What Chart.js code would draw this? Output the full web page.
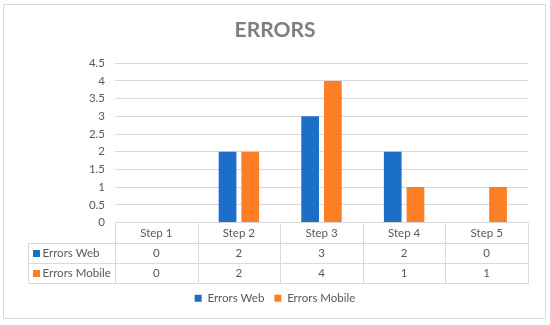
<!DOCTYPE html>
<html>
<head>
<meta charset="utf-8">
<script src="https://cdn.jsdelivr.net/npm/chart.js@4"></script>
<style>
html,body{margin:0;padding:0;background:#fff;}
#wrap{width:550px;height:325px;position:relative;}
</style>
</head>
<body>
<div id="wrap"><canvas id="c" width="550" height="325"></canvas></div>
<script>
const categories = ["Step 1", "Step 2", "Step 3", "Step 4", "Step 5"];
const errorsWeb = [0, 2, 3, 2, 0];
const errorsMobile = [0, 2, 4, 1, 1];
const seriesNames = ["Errors Web", "Errors Mobile"];
const seriesColors = ["#1C6FC7", "#FD7E24"];
const chartTitle = "ERRORS";

const FONT = "Lato, 'Liberation Sans', sans-serif";
const TEXT = "#595959";
const LINE = "#D9D9D9";

const framePlugin = {
  id: 'frame',
  beforeDraw(chart) {
    const ctx = chart.ctx;
    ctx.save();
    ctx.fillStyle = '#fff';
    ctx.fillRect(0, 0, chart.width, chart.height);
    ctx.strokeStyle = LINE;
    ctx.lineWidth = 1;
    ctx.strokeRect(3.5, 4.5, 542, 314);
    ctx.restore();
  }
};

const tablePlugin = {
  id: 'datatable',
  afterDraw(chart) {
    const ctx = chart.ctx;
    const xs = chart.scales.x;
    const area = chart.chartArea;
    const right = Math.round(area.right) + 0.5;
    const top = Math.round(area.bottom) + 0.5;
    const rowH = 20;
    const labelLeft = 28.5;
    const n = categories.length;
    const colW = (area.right - area.left) / n;
    ctx.save();
    ctx.strokeStyle = LINE;
    ctx.lineWidth = 1;
    ctx.beginPath();
    for (let i = 0; i <= n; i++) {
      const x = Math.round(area.left + i * colW) + 0.5;
      ctx.moveTo(x, top);
      ctx.lineTo(x, top + rowH * 3);
    }
    ctx.moveTo(labelLeft, top + rowH);
    ctx.lineTo(labelLeft, top + rowH * 3);
    for (let r = 1; r <= 3; r++) {
      ctx.moveTo(labelLeft, top + rowH * r);
      ctx.lineTo(right, top + rowH * r);
    }
    ctx.stroke();

    ctx.font = "11.5px " + FONT;
    ctx.textBaseline = 'middle';
    const rows = [errorsWeb, errorsMobile];
    rows.forEach((vals, r) => {
      const cy = top + rowH * (r + 1) + rowH / 2;
      ctx.fillStyle = seriesColors[r];
      ctx.fillRect(labelLeft + 4.5, cy - 3.5, 7, 7);
      ctx.fillStyle = TEXT;
      ctx.textAlign = 'left';
      ctx.fillText(seriesNames[r], labelLeft + 14, cy);
      ctx.textAlign = 'center';
      vals.forEach((v, i) => {
        ctx.fillText(String(v), xs.getPixelForValue(i), cy);
      });
    });
    ctx.restore();
  }
};

new Chart(document.getElementById('c'), {
  type: 'bar',
  data: {
    labels: categories,
    datasets: [
      { label: seriesNames[0], data: errorsWeb, backgroundColor: seriesColors[0], borderWidth: 0 },
      { label: seriesNames[1], data: errorsMobile, backgroundColor: seriesColors[1], borderWidth: 0 }
    ]
  },
  options: {
    responsive: false,
    animation: false,
    layout: { padding: { left: 22, right: 22, top: 6, bottom: 11 } },
    datasets: { bar: { categoryPercentage: 0.55, barPercentage: 0.78 } },
    plugins: {
      title: {
        display: true,
        text: chartTitle,
        color: '#7F7F7F',
        font: { family: FONT, size: 21, weight: 'bold' },
        padding: { top: 12, bottom: 20 }
      },
      legend: {
        position: 'bottom',
        labels: {
          boxWidth: 7, boxHeight: 7, padding: 10,
          color: TEXT,
          font: { family: FONT, size: 11.5 }
        }
      },
      tooltip: { enabled: false }
    },
    scales: {
      x: {
        grid: { display: false, drawTicks: false },
        border: { display: true, color: LINE },
        ticks: { color: TEXT, font: { family: FONT, size: 11.5 }, padding: 4 },
        afterFit(s) { s.height = 60; }
      },
      y: {
        min: 0, max: 4.5,
        ticks: {
          stepSize: 0.5, color: TEXT, font: { family: FONT, size: 11.5 }, padding: 10,
          callback: (v) => String(+Number(v).toFixed(1))
        },
        grid: { color: LINE, drawTicks: false },
        border: { display: false },
        afterFit(s) { s.width = 93; }
      }
    }
  },
  plugins: [framePlugin, tablePlugin]
});
</script>
</body>
</html>
